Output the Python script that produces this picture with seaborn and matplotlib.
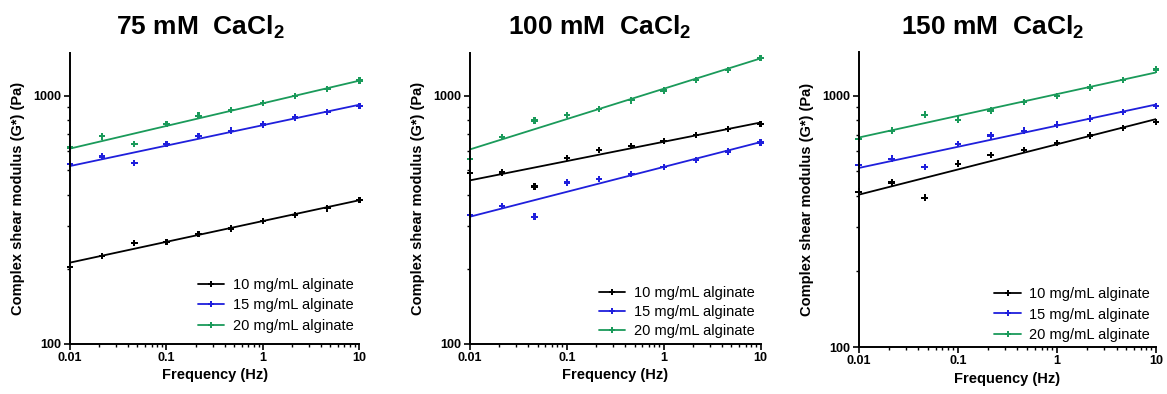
import numpy as np
import pandas as pd
import matplotlib
matplotlib.use("Agg")
import matplotlib.pyplot as plt
import seaborn as sns
from matplotlib.lines import Line2D
from matplotlib.ticker import LogLocator, NullFormatter, FixedLocator, FixedFormatter

# ---------------- data ----------------
freq = [0.01, 0.0215, 0.0464, 0.1, 0.215, 0.464, 1.0, 2.15, 4.64, 10.0]
series_names = ["10 mg/mL alginate", "15 mg/mL alginate", "20 mg/mL alginate"]
panel_titles = ["75 mM  CaCl$_\\mathbf{2}$", "100 mM  CaCl$_\\mathbf{2}$", "150 mM  CaCl$_\\mathbf{2}$"]

g75_10 = [205, 226, 255, 258, 277, 292, 313, 331, 352, 381]
g75_15 = [532, 569, 535, 640, 690, 723, 766, 818, 859, 911]
g75_20 = [619, 686, 638, 769, 831, 878, 934, 1000, 1064, 1153]

g100_10 = [488, 491, 431, 561, 606, 628, 658, 696, 734, 771]
g100_15 = [331, 360, 326, 447, 461, 485, 516, 552, 596, 648]
g100_20 = [555, 681, 795, 838, 884, 958, 1051, 1160, 1273, 1419]

g150_10 = [415, 451, 393, 536, 580, 607, 648, 694, 743, 785]
g150_15 = [528, 561, 521, 642, 694, 725, 766, 809, 859, 910]
g150_20 = [673, 725, 839, 802, 872, 941, 994, 1076, 1153, 1270]

x_ticks = [0.01, 0.1, 1, 10]
x_tick_labels = ["0.01", "0.1", "1", "10"]
y_ticks = [100, 1000]
y_tick_labels = ["100", "1000"]

panels = [
    [g75_10, g75_15, g75_20],
    [g100_10, g100_15, g100_20],
    [g150_10, g150_15, g150_20],
]
colors = ["#000000", "#1f1fdc", "#1a9a5a"]

# ---------------- style ----------------
sns.set_style("ticks")
plt.rcParams["font.family"] = ["Liberation Sans", "DejaVu Sans"]
plt.rcParams["mathtext.fontset"] = "custom"
plt.rcParams["mathtext.rm"] = "Liberation Sans"
plt.rcParams["mathtext.bf"] = "Liberation Sans:bold"
for k in ["text.color", "axes.labelcolor", "xtick.color", "ytick.color", "axes.edgecolor"]:
    plt.rcParams[k] = "black"

fig = plt.figure(figsize=(11.67, 3.94), dpi=100)

axes_rects = [
    [0.060, 0.127, 0.248, 0.739],
    [0.4027, 0.127, 0.249, 0.739],
    [0.7358, 0.119, 0.2548, 0.749],
]
title_x = [200 / 1167, 600 / 1167, 993 / 1167]
legend_y = [0.018, 0.0, -0.003]
legend_sp = [0.45, 0.35, 0.45]

for i, (rect, data) in enumerate(zip(axes_rects, panels)):
    ax = fig.add_axes(rect)
    rows = []
    for name, vals in zip(series_names, data):
        for f, v in zip(freq, vals):
            rows.append({"freq": f, "G": v, "series": name})
    df = pd.DataFrame(rows)

    # power-law fit lines
    fit_rows = []
    for name, vals in zip(series_names, data):
        b, a = np.polyfit(np.log10(freq), np.log10(vals), 1)
        for f in [freq[0], freq[-1]]:
            fit_rows.append({"freq": f, "G": 10 ** (a + b * np.log10(f)), "series": name})
    fit_df = pd.DataFrame(fit_rows)

    sns.lineplot(data=fit_df, x="freq", y="G", hue="series", palette=colors,
                 hue_order=series_names, ax=ax, legend=False, linewidth=1.3)
    sns.scatterplot(data=df, x="freq", y="G", hue="series", palette=colors,
                    hue_order=series_names, ax=ax, legend=False, marker="P",
                    s=22, edgecolor="none", clip_on=False)

    ax.set_xscale("log")
    ax.set_yscale("log")
    ax.set_xlim(0.01, 10)
    ax.set_ylim(100, 1490)

    ax.xaxis.set_major_locator(FixedLocator(x_ticks))
    ax.xaxis.set_major_formatter(FixedFormatter(x_tick_labels))
    ax.xaxis.set_minor_locator(LogLocator(base=10, subs=np.arange(2, 10)))
    ax.xaxis.set_minor_formatter(NullFormatter())
    ax.yaxis.set_major_locator(FixedLocator(y_ticks))
    ax.yaxis.set_major_formatter(FixedFormatter(y_tick_labels))
    ax.yaxis.set_minor_locator(LogLocator(base=10, subs=np.arange(2, 10)))
    ax.yaxis.set_minor_formatter(NullFormatter())

    ax.tick_params(axis="both", which="major", length=4, width=1.2, labelsize=9,
                   pad=2, color="black", labelcolor="black")
    ax.tick_params(axis="both", which="minor", length=2.5, width=1.0, color="black")
    for lab in ax.get_xticklabels() + ax.get_yticklabels():
        lab.set_fontweight("bold")

    sns.despine(ax=ax)
    for s in ["left", "bottom"]:
        ax.spines[s].set_linewidth(1.4)
        ax.spines[s].set_color("black")

    ax.set_xlabel("Frequency (Hz)", fontsize=10.5, fontweight="bold", labelpad=3)
    ax.set_ylabel("Complex shear modulus (G*) (Pa)", fontsize=10.5, fontweight="bold",
                  labelpad=6)

    handles = [Line2D([0], [0], color=c, lw=1.3, marker="P", markersize=4,
                      markeredgewidth=0) for c in colors]
    ax.legend(handles, series_names, loc="lower right", frameon=False, fontsize=10.5,
              handlelength=1.8, handletextpad=0.6, labelspacing=legend_sp[i],
              borderaxespad=0.0, bbox_to_anchor=(1.0, legend_y[i]))

    fig.text(title_x[i], 0.93, panel_titles[i], ha="center", va="center",
             fontsize=19, fontweight="bold", color="black")

fig.savefig("out.png", dpi=100)
